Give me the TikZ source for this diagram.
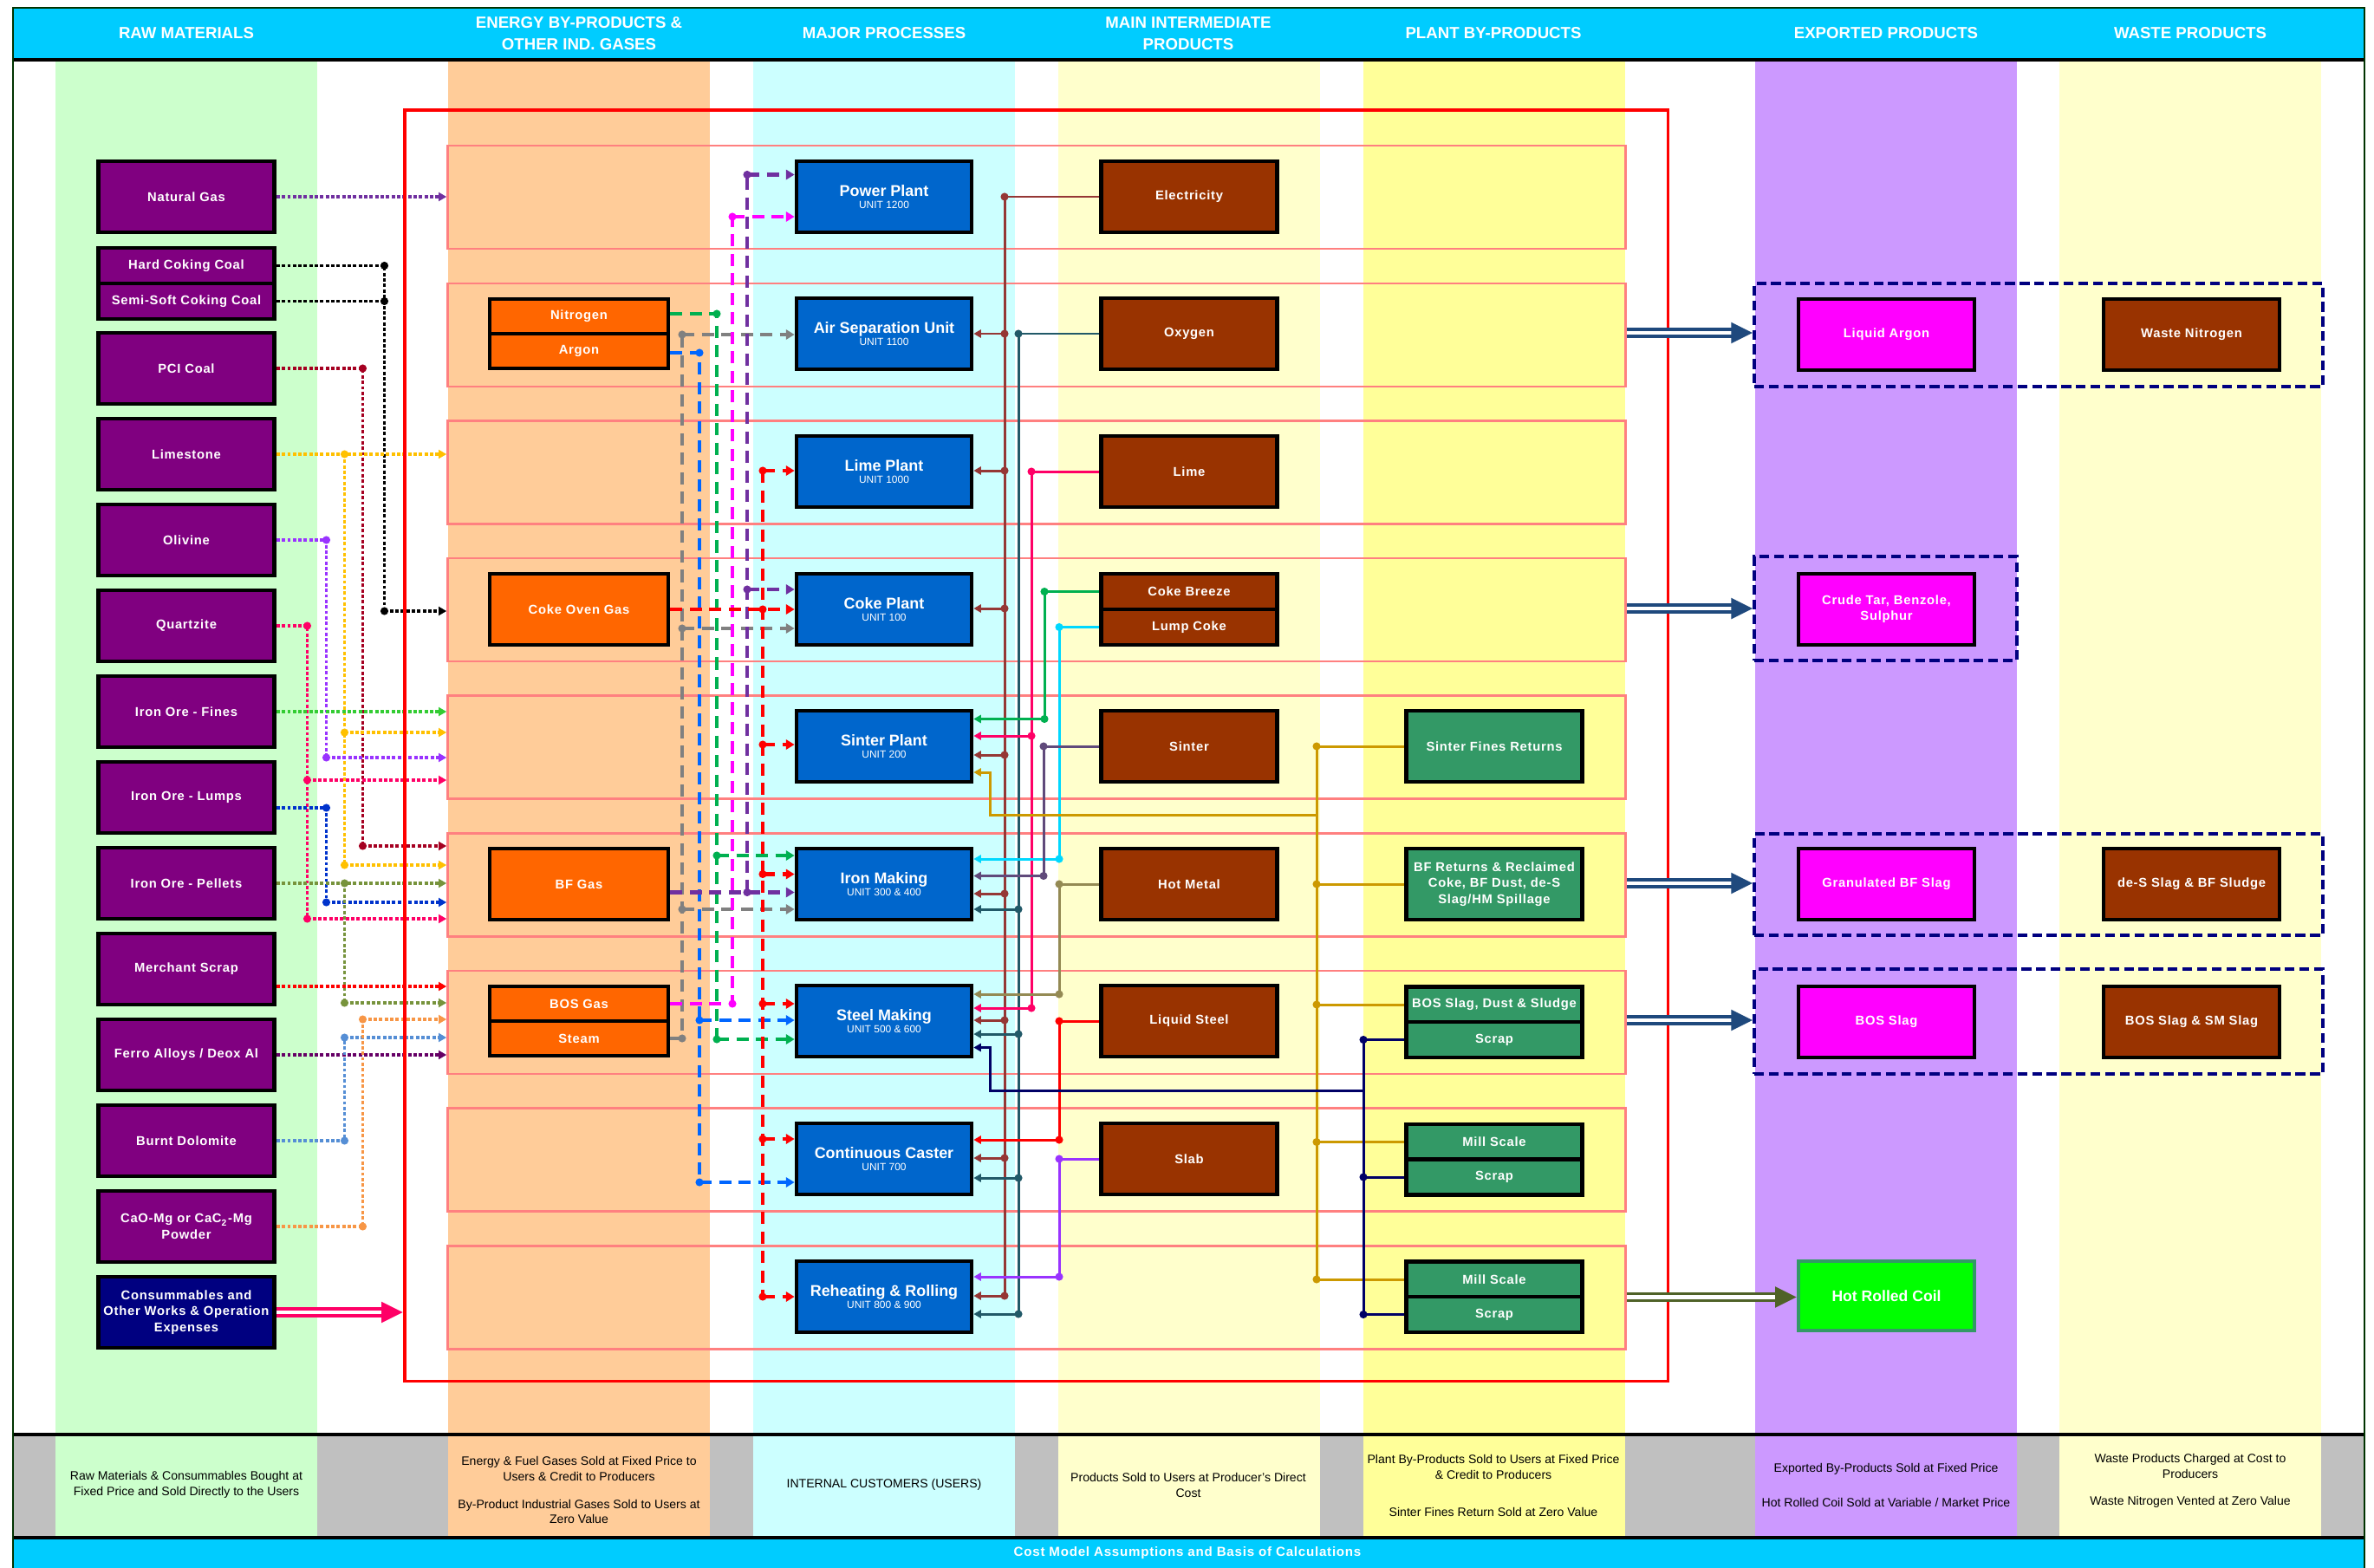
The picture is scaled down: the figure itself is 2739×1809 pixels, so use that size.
\documentclass[tikz,border=0pt]{standalone}
\usepackage{fontspec}
\setmainfont{Liberation Sans}
\newfontfamily\boxfont[LetterSpace=5]{Liberation Sans}
\usetikzlibrary{arrows.meta}

\definecolor{hdrc}{HTML}{00CCFF}
\definecolor{frmc}{HTML}{003300}
\definecolor{bgreen}{HTML}{CCFFCC}
\definecolor{borange}{HTML}{FFCC99}
\definecolor{bcyan}{HTML}{CCFFFF}
\definecolor{bcream}{HTML}{FFFFCC}
\definecolor{byellow}{HTML}{FFFF99}
\definecolor{bpurple}{HTML}{CC99FF}
\definecolor{bgray}{HTML}{C0C0C0}
\definecolor{rowc}{HTML}{FF8080}
\definecolor{rawc}{HTML}{800080}
\definecolor{consc}{HTML}{000080}
\definecolor{gasc}{HTML}{FF6600}
\definecolor{procc}{HTML}{0066CC}
\definecolor{prodc}{HTML}{993300}
\definecolor{plantc}{HTML}{339966}
\definecolor{expc}{HTML}{FF00FF}
\definecolor{hrcc}{HTML}{00FF00}
\definecolor{navyc}{HTML}{000080}
\definecolor{arrc}{HTML}{1F497D}
\definecolor{olivec}{HTML}{4F6228}
\definecolor{cNG}{HTML}{7030A0}
\definecolor{cPCI}{HTML}{A50021}
\definecolor{cLst}{HTML}{FFC000}
\definecolor{cOli}{HTML}{9933FF}
\definecolor{cQtz}{HTML}{FF0066}
\definecolor{cFin}{HTML}{33CC33}
\definecolor{cLmp}{HTML}{0033CC}
\definecolor{cPel}{HTML}{77933C}
\definecolor{cScr}{HTML}{FF0000}
\definecolor{cFer}{HTML}{660066}
\definecolor{cDol}{HTML}{558ED5}
\definecolor{cCao}{HTML}{F79646}
\definecolor{cN2}{HTML}{00B050}
\definecolor{cAr}{HTML}{0066FF}
\definecolor{cStm}{HTML}{808080}
\definecolor{cBos}{HTML}{FF00FF}
\definecolor{cBf}{HTML}{7030A0}
\definecolor{cCog}{HTML}{FF0000}
\definecolor{cEl}{HTML}{953735}
\definecolor{cOx}{HTML}{215968}
\definecolor{cLim}{HTML}{FF0066}
\definecolor{cBrz}{HTML}{00B050}
\definecolor{cLcoke}{HTML}{00D8FF}
\definecolor{cSin}{HTML}{604A7B}
\definecolor{cHm}{HTML}{948A54}
\definecolor{cLs}{HTML}{FF0000}
\definecolor{cSlab}{HTML}{9933FF}
\definecolor{cGold}{HTML}{CC9900}
\definecolor{cRet}{HTML}{000066}
\definecolor{cPink}{HTML}{FF0066}

\tikzset{
  box/.style={draw=black, line width=1.3pt, inner sep=0pt, align=center, text=white,
    minimum width=2.03cm, minimum height=0.82cm, font=\boxfont\fontsize{4.2}{5.2}\selectfont\bfseries},
  halfbox/.style={minimum height=0.41cm},
  rawbox/.style={box, fill=rawc},
  gasbox/.style={box, fill=gasc, minimum width=2.06cm},
  procbox/.style={box, fill=procc, minimum width=2.02cm, font=\fontsize{3.4}{3.9}\selectfont},
  prodbox/.style={box, fill=prodc},
  plantbox/.style={box, fill=plantc},
  expbox/.style={box, fill=expc},
  wastebox/.style={box, fill=prodc},
  rowbox/.style={draw=rowc, line width=0.8pt, minimum width=13.58cm, minimum height=1.19cm, inner sep=0pt},
  grpbox/.style={draw=navyc, line width=1.1pt, dash pattern=on 3.2pt off 1.6pt, inner sep=0pt, minimum width=6.56cm, minimum height=1.19cm},
  hdr/.style={text=white, font=\fontsize{5.3}{7.1}\selectfont\bfseries, align=center},
  note/.style={font=\fontsize{4}{5.1}\selectfont, align=center},
  rawln/.style={draw=#1, line width=1.1pt, dash pattern=on 1.1pt off 0.7pt},
  gasln/.style={draw=#1, line width=1.4pt, dash pattern=on 4pt off 2.4pt},
  prdln/.style={draw=#1, line width=0.85pt},
  tipS/.style={-{Triangle[length=2.6pt,width=2.8pt]}},
  tipG/.style={-{Triangle[length=2.8pt,width=3.2pt]}},
  tipP/.style={-{Triangle[length=2.4pt,width=2.6pt]}}
}
\newcommand{\jd}[2]{\fill[#1] (#2) circle (1.3pt);}
\newcommand{\ptl}[2]{{\fontsize{5.1}{3.9}\selectfont\bfseries #1}\\#2}
\newcommand{\dbl}[3]{%
  \draw[draw=#1, line width=1.1pt, double=white, double distance=1.2pt, shorten >=4.5pt] (#2) -- (#3);
  \fill[#1] (#3) -- ++(-7pt,3.5pt) -- ++(0,-7pt) -- cycle;}

\begin{document}
\begin{tikzpicture}[x=0.01cm,y=-0.01cm]
\useasboundingbox (0,0) rectangle (2739,1809);
\fill[white] (0,0) rectangle (2739,1809);
\fill[bgray] (15,1657) rectangle (2728,1772);
\foreach \x/\c in {64/bgreen,517/borange,869/bcyan,1221/bcream,1573/byellow,2025/bpurple,2376/bcream}
  \fill[\c] (\x,71) rectangle ++(302,1701);
\fill[hdrc] (15,10) rectangle (2728,67);
\fill[black] (15,67) rectangle (2728,71);
\fill[black] (15,1653) rectangle (2728,1657);
\fill[black] (15,1772) rectangle (2728,1776);
\fill[hdrc] (15,1776) rectangle (2728,1809);
\draw[frmc, line width=0.7pt] (15,1809) -- (15,9) -- (2728,9) -- (2728,1809);

\node[hdr] (h1) at (215,38) {RAW MATERIALS};
\node[hdr] (h2) at (668,39) {ENERGY BY-PRODUCTS \&\\OTHER IND. GASES};
\node[hdr] (h3) at (1020,38) {MAJOR PROCESSES};
\node[hdr] (h4) at (1371,39) {MAIN INTERMEDIATE\\PRODUCTS};
\node[hdr] (h5) at (1723,38) {PLANT BY-PRODUCTS};
\node[hdr] (h6) at (2176,38) {EXPORTED PRODUCTS};
\node[hdr] (h7) at (2527,38) {WASTE PRODUCTS};

\node[note] (n1) at (215,1713) {Raw Materials \& Consummables Bought at\\Fixed Price and Sold Directly to the Users};
\node[note] (n2) at (668,1719) {Energy \& Fuel Gases Sold at Fixed Price to\\Users \& Credit to Producers\\[4pt]By-Product Industrial Gases Sold to Users at\\Zero Value};
\node[note] (n3) at (1020,1713) {INTERNAL CUSTOMERS (USERS)};
\node[note] (n4) at (1371,1713) {Products Sold to Users at Producer's Direct\\Cost};
\node[note] (n5) at (1723,1714) {Plant By-Products Sold to Users at Fixed Price\\\& Credit to Producers\\[7pt]Sinter Fines Return Sold at Zero Value};
\node[note] (n6) at (2176,1713) {Exported By-Products Sold at Fixed Price\\[6.3pt]Hot Rolled Coil Sold at Variable / Market Price};
\node[note] (n7) at (2527,1708) {Waste Products Charged at Cost to\\Producers\\[3.7pt]Waste Nitrogen Vented at Zero Value};
\node[text=white, font=\boxfont\fontsize{4.3}{5}\selectfont\bfseries] (cm) at (1370,1792) {Cost Model Assumptions and Basis of Calculations};

\foreach \i/\y in {1/227.5,2/386.5,3/545,4/703.5,5/862,6/1021,7/1179.5,8/1338,9/1497}
  \node[rowbox] (r\i) at (1196,\y) {};
\node[grpbox] (grp2) at (2352,386.5) {};
\node[grpbox, minimum width=3.03cm, minimum height=1.2cm] (grp4) at (2175.5,702) {};
\node[grpbox, minimum height=1.17cm] (grp6) at (2352,1020.5) {};
\node[grpbox, minimum height=1.21cm] (grp7) at (2352,1178.5) {};

\foreach \n/\y/\t in {ng/227/Natural Gas, pci/425/PCI Coal, lst/524/Limestone, oli/623/Olivine, qtz/722/Quartzite, iof/821/Iron Ore - Fines, iol/920/Iron Ore - Lumps, iop/1019/Iron Ore - Pellets, msc/1118/Merchant Scrap, fea/1217/{Ferro Alloys / Deox Al}, bdo/1316/Burnt Dolomite}
  \node[rawbox] (\n) at (215,\y) {\t};
\node[rawbox, halfbox] (hcc) at (215,306.5) {Hard Coking Coal};
\node[rawbox, halfbox] (ssc) at (215,347.5) {Semi-Soft Coking Coal};
\node[rawbox] (cao) at (215,1415) {CaO-Mg or CaC\textsubscript{2}-Mg\\Powder};
\node[rawbox, fill=consc] (cons) at (215,1514) {Consummables and\\Other Works \& Operation\\Expenses};

\node[gasbox, minimum height=0.40cm] (nit) at (668,365) {Nitrogen};
\node[gasbox, minimum height=0.40cm] (arg) at (668,405) {Argon};
\node[gasbox] (cog) at (668,703) {Coke Oven Gas};
\node[gasbox] (bfg) at (668,1020) {BF Gas};
\node[gasbox, minimum height=0.40cm] (bos) at (668,1158) {BOS Gas};
\node[gasbox, minimum height=0.40cm] (stm) at (668,1198) {Steam};

\node[procbox] (pp) at (1020,227) {\ptl{Power Plant}{UNIT 1200}};
\node[procbox] (asu) at (1020,385) {\ptl{Air Separation Unit}{UNIT 1100}};
\node[procbox] (lp) at (1020,544) {\ptl{Lime Plant}{UNIT 1000}};
\node[procbox] (cp) at (1020,703) {\ptl{Coke Plant}{UNIT 100}};
\node[procbox] (sp) at (1020,861) {\ptl{Sinter Plant}{UNIT 200}};
\node[procbox] (im) at (1020,1020) {\ptl{Iron Making}{UNIT 300 \& 400}};
\node[procbox] (sm) at (1020,1178) {\ptl{Steel Making}{UNIT 500 \& 600}};
\node[procbox] (cc) at (1020,1337) {\ptl{Continuous Caster}{UNIT 700}};
\node[procbox] (rr) at (1020,1496) {\ptl{Reheating \& Rolling}{UNIT 800 \& 900}};

\node[prodbox] (elec) at (1372,227) {Electricity};
\node[prodbox] (oxy) at (1372,385) {Oxygen};
\node[prodbox] (limep) at (1372,544) {Lime};
\node[prodbox, halfbox] (cbz) at (1372,682.5) {Coke Breeze};
\node[prodbox, halfbox] (lcoke) at (1372,723.5) {Lump Coke};
\node[prodbox] (sint) at (1372,861) {Sinter};
\node[prodbox] (hm) at (1372,1020) {Hot Metal};
\node[prodbox] (ls) at (1372,1178) {Liquid Steel};
\node[prodbox] (slab) at (1372,1337) {Slab};

\node[plantbox] (sfr) at (1724,861) {Sinter Fines Returns};
\node[plantbox] (bfr) at (1724,1020) {BF Returns \& Reclaimed\\Coke, BF Dust, de-S\\Slag/HM Spillage};
\node[plantbox, halfbox] (bosd) at (1724,1159) {BOS Slag, Dust \& Sludge};
\node[plantbox, halfbox] (scr7) at (1724,1199.5) {Scrap};
\node[plantbox, halfbox] (ms8) at (1724,1317.5) {Mill Scale};
\node[plantbox, halfbox] (scr8) at (1724,1358) {Scrap};
\node[plantbox, halfbox] (ms9) at (1724,1476) {Mill Scale};
\node[plantbox, halfbox] (scr9) at (1724,1516.5) {Scrap};

\node[expbox] (lar) at (2176.5,386) {Liquid Argon};
\node[expbox] (ctar) at (2176.5,703) {Crude Tar, Benzole,\\Sulphur};
\node[expbox] (gbfs) at (2176.5,1020) {Granulated BF Slag};
\node[expbox] (bosx) at (2176.5,1179) {BOS Slag};
\node[box, fill=hrcc, draw=plantc, minimum height=0.80cm, font=\fontsize{5}{6}\selectfont\bfseries] (hrc) at (2176.5,1495) {Hot Rolled Coil};
\node[wastebox] (wn) at (2528.5,386) {Waste Nitrogen};
\node[wastebox] (dess) at (2528.5,1020) {de-S Slag \& BF Sludge};
\node[wastebox] (bsm) at (2528.5,1179) {BOS Slag \& SM Slag};

% raw materials into the plant
\draw[rawln=cNG,tipS] (ng.east) -- (ng.east -| r1.west);
\draw[rawln=black] (hcc.east) -- (443.5,306.5) -- (443.5,705);
\draw[rawln=black] (ssc.east) -- (443.5,347.5);
\draw[rawln=black,tipS] (443.5,705) -- (r4.west |- 0,705);
\jd{black}{443.5,306.5} \jd{black}{443.5,347.5} \jd{black}{443.5,705}
\draw[rawln=cPCI] (pci.east) -- (418.5,425) -- (418.5,976);
\draw[rawln=cPCI,tipS] (418.5,976) -- (r6.west |- 0,976);
\jd{cPCI}{418.5,425} \jd{cPCI}{418.5,976}
\draw[rawln=cLst,tipS] (lst.east) -- (lst.east -| r3.west);
\draw[rawln=cLst] (397.5,524) -- (397.5,998);
\draw[rawln=cLst,tipS] (397.5,845) -- (r5.west |- 0,845);
\draw[rawln=cLst,tipS] (397.5,998) -- (r6.west |- 0,998);
\jd{cLst}{397.5,524} \jd{cLst}{397.5,845} \jd{cLst}{397.5,998}
\draw[rawln=cOli] (oli.east) -- (376.5,623) -- (376.5,874);
\draw[rawln=cOli,tipS] (376.5,874) -- (r5.west |- 0,874);
\jd{cOli}{376.5,623} \jd{cOli}{376.5,874}
\draw[rawln=cQtz] (qtz.east) -- (354.5,722) -- (354.5,1060);
\draw[rawln=cQtz,tipS] (354.5,900) -- (r5.west |- 0,900);
\draw[rawln=cQtz,tipS] (354.5,1060) -- (r6.west |- 0,1060);
\jd{cQtz}{354.5,722} \jd{cQtz}{354.5,900} \jd{cQtz}{354.5,1060}
\draw[rawln=cFin,tipS] (iof.east) -- (iof.east -| r5.west);
\draw[rawln=cLmp] (iol.east |- 0,932) -- (376.5,932) -- (376.5,1041);
\draw[rawln=cLmp,tipS] (376.5,1041) -- (r6.west |- 0,1041);
\jd{cLmp}{376.5,932} \jd{cLmp}{376.5,1041}
\draw[rawln=cPel,tipS] (iop.east) -- (iop.east -| r6.west);
\draw[rawln=cPel] (397.5,1019) -- (397.5,1157);
\draw[rawln=cPel,tipS] (397.5,1157) -- (r7.west |- 0,1157);
\jd{cPel}{397.5,1019} \jd{cPel}{397.5,1157}
\draw[rawln=cScr,tipS] (msc.east |- 0,1138) -- (r7.west |- 0,1138);
\draw[rawln=cFer,tipS] (fea.east) -- (fea.east -| r7.west);
\draw[rawln=cDol] (bdo.east) -- (397.5,1316) -- (397.5,1197);
\draw[rawln=cDol,tipS] (397.5,1197) -- (r7.west |- 0,1197);
\jd{cDol}{397.5,1316} \jd{cDol}{397.5,1197}
\draw[rawln=cCao] (cao.east) -- (418.5,1415) -- (418.5,1176);
\draw[rawln=cCao,tipS] (418.5,1176) -- (r7.west |- 0,1176);
\jd{cCao}{418.5,1415} \jd{cCao}{418.5,1176}

% gases to the processes
\draw[gasln=cN2] (nit.east |- 0,362) -- (827,362) -- (827,1199);
\draw[gasln=cN2,tipG] (827,987) -- (im.west |- 0,987);
\draw[gasln=cN2,tipG] (827,1199) -- (sm.west |- 0,1199);
\jd{cN2}{827,362} \jd{cN2}{827,987} \jd{cN2}{827,1199}
\draw[gasln=cAr] (arg.east |- 0,407) -- (807,407) -- (807,1364);
\draw[gasln=cAr,tipG] (807,1177) -- (sm.west |- 0,1177);
\draw[gasln=cAr,tipG] (807,1364) -- (cc.west |- 0,1364);
\jd{cAr}{807,407} \jd{cAr}{807,1177} \jd{cAr}{807,1364}
\draw[gasln=cStm] (stm.east) -- (787,1198) -- (787,386);
\foreach \n/\y in {asu/386,cp/725,im/1049}
  {\jd{cStm}{787,\y} \draw[gasln=cStm,tipG] (787,\y) -- (\n.west |- 0,\y);}
\jd{cStm}{787,1198}
\draw[gasln=cBos] (bos.east) -- (845,1158) -- (845,250);
\draw[gasln=cBos,tipG] (845,250) -- (pp.west |- 0,250);
\jd{cBos}{845,1158} \jd{cBos}{845,250}
\draw[gasln=cBf,tipG] (bfg.east |- 0,1029.5) -- (im.west |- 0,1029.5);
\draw[gasln=cBf] (862,1029.5) -- (862,201.5);
\foreach \n/\y in {pp/201.5,cp/680}
  {\jd{cBf}{862,\y} \draw[gasln=cBf,tipG] (862,\y) -- (\n.west |- 0,\y);}
\jd{cBf}{862,1029.5}
\draw[gasln=cCog,tipG] (cog.east) -- (cog.east -| cp.west);
\draw[gasln=cCog] (880,543) -- (880,1496);
\foreach \n/\y in {lp/543,sp/859,im/1008.5,sm/1158,cc/1314,rr/1496}
  {\jd{cCog}{880,\y} \draw[gasln=cCog,tipG] (880,\y) -- (\n.west |- 0,\y);}
\jd{cCog}{880,703}

% products back to the processes
\draw[prdln=cEl] (elec.west) -- (1159,227) -- (1159,1495);
\jd{cEl}{1159,227}
\foreach \n/\y in {asu/385,lp/543,cp/702,sp/871,im/1031,sm/1177,cc/1336,rr/1495}
  {\jd{cEl}{1159,\y} \draw[prdln=cEl,tipP] (1159,\y) -- (\n.east |- 0,\y);}
\draw[prdln=cOx] (oxy.west) -- (1175,385) -- (1175,1516);
\jd{cOx}{1175,385}
\foreach \n/\y in {im/1049,sm/1193,cc/1359,rr/1516}
  {\jd{cOx}{1175,\y} \draw[prdln=cOx,tipP] (1175,\y) -- (\n.east |- 0,\y);}
\draw[prdln=cLim] (limep.west) -- (1190,544) -- (1190,1163);
\jd{cLim}{1190,544}
\foreach \n/\y in {sp/849,sm/1163}
  {\jd{cLim}{1190,\y} \draw[prdln=cLim,tipP] (1190,\y) -- (\n.east |- 0,\y);}
\draw[prdln=cBrz] (cbz.west) -- (1205,682.5) -- (1205,829.5);
\draw[prdln=cBrz,tipP] (1205,829.5) -- (sp.east |- 0,829.5);
\jd{cBrz}{1205,682.5} \jd{cBrz}{1205,829.5}
\draw[prdln=cLcoke] (lcoke.west) -- (1222,723.5) -- (1222,991);
\draw[prdln=cLcoke,tipP] (1222,991) -- (im.east |- 0,991);
\jd{cLcoke}{1222,723.5} \jd{cLcoke}{1222,991}
\draw[prdln=cSin] (sint.west) -- (1204,861) -- (1204,1010.5);
\draw[prdln=cSin,tipP] (1204,1010.5) -- (im.east |- 0,1010.5);
\jd{cSin}{1204,861} \jd{cSin}{1204,1010.5}
\draw[prdln=cHm] (hm.west) -- (1222,1020) -- (1222,1147);
\draw[prdln=cHm,tipP] (1222,1147) -- (sm.east |- 0,1147);
\jd{cHm}{1222,1020} \jd{cHm}{1222,1147}
\draw[prdln=cLs] (ls.west) -- (1222,1178) -- (1222,1315);
\draw[prdln=cLs,tipP] (1222,1315) -- (cc.east |- 0,1315);
\jd{cLs}{1222,1178} \jd{cLs}{1222,1315}
\draw[prdln=cSlab] (slab.west) -- (1222,1337) -- (1222,1473);
\draw[prdln=cSlab,tipP] (1222,1473) -- (rr.east |- 0,1473);
\jd{cSlab}{1222,1337} \jd{cSlab}{1222,1473}

% plant by-products returned
\coordinate (bgold) at (1519,0);
\coordinate (bscr) at (1573,0);
\draw[prdln=cGold] (sfr.west -| bgold) -- (ms9.west -| bgold);
\foreach \n in {sfr,bfr,bosd,ms8,ms9}
  {\draw[prdln=cGold] (\n.west) -- (\n.west -| bgold); \jd{cGold}{\n.west -| bgold}}
\draw[prdln=cGold,tipP] (1519,940) -- (1142,940) -- (1142,891) -- (sp.east |- 0,891);
\draw[prdln=cRet] (scr7.west -| bscr) -- (scr9.west -| bscr);
\foreach \n in {scr7,scr8,scr9}
  {\draw[prdln=cRet] (\n.west) -- (\n.west -| bscr); \jd{cRet}{\n.west -| bscr}}
\draw[prdln=cRet,tipP] (1573,1258.5) -- (1142,1258.5) -- (1142,1208.5) -- (sm.east |- 0,1208.5);

\node[draw=red, line width=1.1pt, minimum width=14.57cm, minimum height=14.66cm, inner sep=0pt] (plant) at (1195.5,860) {};

\coordinate (ce) at (cons.east -| plant.west);
\dbl{cPink}{cons.east}{ce}
\coordinate (e2) at (grp2.west |- 0,384);
\coordinate (e4) at (grp4.west |- 0,702);
\coordinate (e6) at (grp6.west |- 0,1019);
\coordinate (e7) at (grp7.west |- 0,1177);
\coordinate (e9) at (hrc.west |- 0,1496.5);
\dbl{arrc}{r2.east |- e2}{e2}
\dbl{arrc}{r4.east |- e4}{e4}
\dbl{arrc}{r6.east |- e6}{e6}
\dbl{arrc}{r7.east |- e7}{e7}
\dbl{olivec}{r9.east |- e9}{e9}
\end{tikzpicture}
\end{document}
